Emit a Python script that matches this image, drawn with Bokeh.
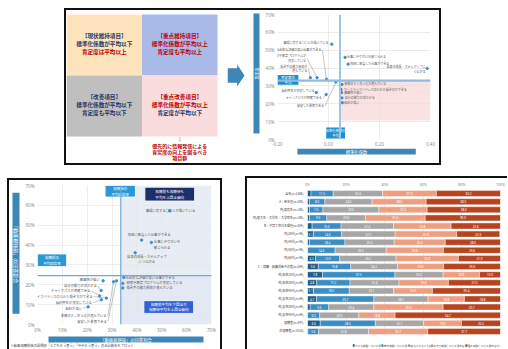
from bokeh.plotting import figure
from bokeh.models import (ColumnDataSource, Range1d, FactorRange, BoxAnnotation, Span,
                          Spacer, FixedTicker, PrintfTickFormatter)
from bokeh.layouts import row, column
from bokeh.core.properties import value
from bokeh.embed import file_html
from bokeh.resources import INLINE
import math

JP = "Noto Sans CJK JP"
LAT = "Noto Sans"

# ---------------- data: quadrant concept diagram ----------------
QUAD_TITLE = ["【現状維持項目】", "【重点維持項目】", "【改善項目】", "【重点改善項目】"]
QUAD_COEF = ["標準化係数が平均以下", "標準化係数が平均以上", "標準化係数が平均以下", "標準化係数が平均以上"]
QUAD_POS = ["肯定度は平均以上", "肯定度も平均以上", "肯定度も平均以下", "肯定度が平均以下"]
QUAD_COL = [0, 1, 0, 1]
QUAD_ROW = [1, 1, 0, 0]
QUAD_NOTE = ["優先的に情報発信による", "肯定度の向上を図るべき", "項目群"]

# ---------------- data: items (both scatter charts) ----------------
ITEMS = ["職場に有する〇〇人が働いている", "地域に密着した仕事ができる", "仕事にやりがいを感じられる",
         "自身の成長・スキルアップにつながる", "社会的な評価が高い仕事ができる",
         "研修や教育プログラムが充実している", "働き手の能力開発が進んでいる",
         "業務のデジタル化が進んでいる", "安定した業界である", "離職率が低い", "自分の能力が活かせる",
         "キャリアパスが明確である", "ワークライフバランスのとれた働き方ができる",
         "福利厚生が充実している", "給料が高い"]
# top scatter: standardized coefficient (x) vs positive rate % (y)
TOP_COEF = [0.013, 0.077, 0.065, 0.387, -0.008, -0.045, -0.071, 0.053, 0.029, 0.051, 0.052,
            -0.009, 0.049, -0.048, 0.054]
TOP_POS = [53.4, 42.2, 46.0, 39.8, 33.7, 34.6, 34.6, 30.8, 32.2, 26.3, 23.3, 25.2, 28.0, 26.3, 20.6]
TOP_COEF_MEAN = 0.045
TOP_POS_MEAN = 33.0
TOP_PINK_BOTTOM = 10.7
# bottom-left scatter: after-viewing rate % (x) vs before-viewing rate % (y)
BL_AFTER = [53.2, 41.9, 45.8, 39.3, 34.7, 34.3, 34.3, 30.6, 31.8, 26.4, 25.6, 25.0, 27.7, 25.7, 20.4]
BL_BEFORE = [57.3, 42.5, 41.3, 36.1, 23.7, 20.7, 18.4, 21.5, 22.0, 22.0, 17.1, 14.4, 13.3, 12.5, 8.9]
BL_AFTER_MEAN = 33.5
BL_BEFORE_MEAN = 24.6

# ---------------- data: stacked bars ----------------
BAR_CATS = ["全体(n=1360)", "A：若年層(n=200)", "内)高校生(n=100)", "内)短大生・大学生・大学院生(n=100)",
            "B：子育て世代主婦層(n=384)", "内)30代(n=96)", "内)40代(n=96)", "内)50代(n=96)",
            "内)60代(n=96)", "C：就職・転職活動中の者(n=384)", "内)男性20代(n=64)", "内)男性30代(n=64)",
            "内)男性40代(n=64)", "内)女性20代(n=64)", "内)女性30代(n=64)", "内)女性40代(n=64)",
            "視聴者(n=347)", "非視聴者(n=1013)"]
BAR_SERIES = ["とても就職したいと思った", "やや就職したいと思った", "どちらともいえない",
              "あまり就職したいと思わなかった", "全く就職したいと思わなかった"]
S_VERY = [1.8, 1.0, 1.0, 1.0, 2.4, 3.1, 1.0, 0.0, 4.2, 5.6, 7.8, 4.8, 3.1, 4.7, 1.4, 0.0, 6.6, 0.2]
S_SOME = [11.5, 8.0, 7.0, 9.0, 15.0, 14.6, 18.4, 14.3, 12.5, 16.8, 37.5, 17.2, 18.5, 29.7, 9.6, 6.3, 28.5, 5.6]
S_NEUT = [25.6, 24.5, 29.0, 20.0, 27.2, 27.7, 25.5, 26.5, 29.2, 24.2, 25.0, 25.4, 23.1, 28.1, 23.4, 20.3, 25.1, 25.8]
S_NOTM = [27.9, 28.0, 25.0, 31.0, 29.8, 31.9, 26.5, 29.6, 32.3, 23.9, 18.8, 25.6, 20.0, 18.8, 35.9, 18.8, 19.6, 30.7]
S_NOT = [33.2, 38.5, 38.0, 39.0, 25.6, 22.3, 28.6, 29.6, 21.9, 29.6, 10.9, 27.0, 35.4, 18.8, 29.7, 54.7, 20.2, 37.7]

# ---------------- layout / style constants ----------------
NAVY = "#1F3864"
RED = "#C00000"
INK = "#111111"
QUAD_FILL = ["#FDE4BC", "#A9BAE9", "#BFBFBF", "#FADCDC"]
QUAD_TXT_COLORS = [[NAVY, NAVY, RED], [RED, RED, RED], [NAVY, NAVY, NAVY], [RED, RED, NAVY]]
QUAD_LINE_OFF = [0.15, 0.02, -0.11]
NOTE_Y = [-0.155, -0.252, -0.349]
ARROW_X = [2.136, 2.261, 2.261, 2.358, 2.261, 2.261, 2.136]
ARROW_Y = [1.12, 1.12, 1.18, 1.0, 0.82, 0.88, 0.88]

TOP_LBL = ["職場に有する〇〇人が働いている", "地域に密着した仕事ができる", "仕事にやりがいを感じられる",
           "自身の成長・スキルアップに\nつながる", "社会的な評価が高い仕事ができる",
           "研修や教育プログラムが\n充実している", "働き手の能力開発が\n進んでいる",
           "業務のデジタル化が進んでいる", "安定した業界である", "離職率が低い", "自分の能力が活かせる",
           "キャリアパスが明確である", "ワークライフバランスのとれた働き方ができる",
           "福利厚生が充実している", "給料が高い"]
TOP_LX = [0.0, 0.085, 0.073, 0.380, -0.028, -0.088, -0.083, 0.062, -0.018, 0.062, 0.064,
          -0.026, 0.060, -0.055, 0.062]
TOP_LY = [54.0, 42.2, 46.0, 39.3, 50.2, 45.3, 39.6, 30.9, 18.8, 26.2, 23.2, 23.0, 28.0, 27.4, 20.6]
TOP_ALIGN = ["right", "left", "left", "right", "right", "right", "right", "left", "right", "left",
             "left", "right", "left", "right", "left"]
TOP_LEADER = [0, 0, 0, 0, 1, 1, 1, 0, 1, 0, 1, 1, 0, 0, 0]

BL_LBL = ["職場に有する〇〇人が働いている", "地域に密着した仕事ができる", "仕事にやりがいを\n感じられる",
          "自身の成長・スキルアップ\nにつながる", "社会的な評価が高い仕事ができる",
          "研修や教育プログラムが充実している", "働き手の能力開発が進んでいる",
          "業務のデジタル化が進んでいる", "安定した業界である", "離職率が低い", "自分の能力が活かせる",
          "キャリアパスが明確である", "ワークライフバランスのとれた働き方ができる",
          "福利厚生が充実している", "給料が高い"]
BL_LX = [43.6, 36.3, 46.8, 44.0, 35.4, 35.8, 35.8, 27.9, 27.9, 25.0, 23.9, 21.3, 22.2, 21.9, 17.9]
BL_LY = [57.3, 45.4, 40.2, 33.1, 23.7, 21.0, 18.4, 4.4, 1.6, 22.6, 19.4, 16.9, 14.1, 11.0, 8.2]
BL_ALIGN = ["left", "left", "left", "center", "left", "left", "left", "right", "right", "right",
            "right", "right", "right", "right", "right"]
BL_LEADER = [0, 0, 0, 0, 0, 0, 0, 1, 1, 0, 1, 1, 1, 1, 1]

BAR_COLORS = ["#215E8C", "#3A8DC5", "#A6A6A6", "#EE9F80", "#B8441F"]
LABEL_MIN = 3.0
DOT = "#3E8FCC"
BOXBLUE = "#3D87B8"
LEG_FONT = 2.6      # px
LEG_START = 61      # px from the left of the legend strip
LEG_SWATCH = 2.6
LEG_GAP = 4.0


def make_fig(w, h, **kw):
    p = figure(width=w, height=h, output_backend="svg", toolbar_location=None, title=None, **kw)
    p.outline_line_color = None
    p.background_fill_color = "white"
    p.border_fill_color = "white"
    return p


def deco(w, h, bg="white"):
    """A figure whose plot area is its whole canvas, in pixel-like units (y downwards)."""
    f = figure(width=w, height=h, x_range=Range1d(0, w), y_range=Range1d(h, 0), min_border=0,
               x_axis_location=None, y_axis_location=None, output_backend="svg",
               toolbar_location=None, title=None)
    f.grid.visible = False
    f.outline_line_color = None
    f.background_fill_color = bg
    f.border_fill_color = bg
    return f


def solid(w, h):
    return Spacer(width=w, height=h, styles={"background-color": INK})


def label_box(f, l, r, t, b, text, size, vertical=False):
    f.quad(left=[l], right=[r], top=[t], bottom=[b], fill_color=BOXBLUE, line_color=None)
    f.text(x=[(l + r) / 2], y=[(t + b) / 2], text=[text], angle=-math.pi / 2 if vertical else 0,
           text_align="center", text_baseline="middle", text_color="white",
           text_font=value(JP), text_font_size=size)


def data_box(p, l, r, b, t, fill, text, size, line=None):
    p.quad(left=[l], right=[r], bottom=[b], top=[t], fill_color=fill,
           line_color=line, line_width=0.8)
    p.text(x=[(l + r) / 2], y=[(b + t) / 2], text=[text], text_align="center",
           text_baseline="middle", text_color="white", text_font=value(JP),
           text_font_size=size, text_line_height=1.15)


def style_axes(p, size, color="#8C8C8C", font=LAT):
    for ax in p.axis:
        ax.axis_line_color = None
        ax.major_tick_line_color = None
        ax.minor_tick_line_color = None
        ax.major_tick_in = 0
        ax.major_tick_out = 0
        ax.major_label_text_font = font
        ax.major_label_text_font_size = size
        ax.major_label_text_color = color


def leader_source(px, py, lx, ly, align, flag, pad):
    x0, y0, x1, y1 = [], [], [], []
    for a, b, c, d, al, f in zip(px, py, lx, ly, align, flag):
        if f:
            s = 1 if al == "right" else -1
            x0.append(c + s * pad)
            y0.append(d)
            x1.append(a)
            y1.append(b)
    return ColumnDataSource(dict(x0=x0, y0=y0, x1=x1, y1=y1))


# ================= top-left: quadrant diagram + arrow =================
qf = make_fig(184, 153, x_range=Range1d(0, 2.437), y_range=Range1d(-0.4426, 2.0656),
              x_axis_location=None, y_axis_location=None, min_border=0)
qf.grid.visible = False
qf.quad(left=QUAD_COL, right=[c + 1 for c in QUAD_COL], bottom=QUAD_ROW,
        top=[r + 1 for r in QUAD_ROW], fill_color=QUAD_FILL, line_color=None)
qx, qy, qt, qc = [], [], [], []
for i in range(4):
    for k, t in enumerate([QUAD_TITLE[i], QUAD_COEF[i], QUAD_POS[i]]):
        qx.append(QUAD_COL[i] + 0.5)
        qy.append(QUAD_ROW[i] + 0.5 + QUAD_LINE_OFF[k])
        qt.append(t)
        qc.append(QUAD_TXT_COLORS[i][k])
qf.text(x="x", y="y", text="t", text_color="c",
        source=ColumnDataSource(dict(x=qx, y=qy, t=qt, c=qc)),
        text_align="center", text_baseline="middle", text_font=value(JP),
        text_font_size="5.6px", text_font_style="bold")
qf.text(x=[1.5], y=[-0.049], text=["⇩"], text_align="center", text_baseline="middle",
        text_font=value("DejaVu Sans"), text_font_size="5px", text_color="#8C8C8C")
qf.text(x=[1.5] * 3, y=NOTE_Y, text=QUAD_NOTE, text_align="center",
        text_baseline="middle", text_font=value(JP), text_font_size="5px",
        text_font_style="bold", text_color=RED)
qf.patch(ARROW_X, ARROW_Y, fill_color=BOXBLUE, line_color=None)

# ================= top-right: scatter (coef vs positive rate) =================
ts = make_fig(177, 138, x_range=Range1d(-0.2, 0.4), y_range=Range1d(0, 70),
              min_border_left=14, min_border_right=9, min_border_top=4, min_border_bottom=8)
ts.xaxis.ticker = FixedTicker(ticks=[-0.2, 0.0, 0.2, 0.4])
ts.yaxis.ticker = FixedTicker(ticks=list(range(0, 71, 10)))
ts.xaxis.formatter = PrintfTickFormatter(format="%.2f")
ts.yaxis.formatter = PrintfTickFormatter(format="%d%%")
style_axes(ts, "4.5px")
ts.yaxis.major_label_standoff = 3
ts.xaxis.major_label_standoff = 2
ts.grid.grid_line_color = "#E3E3E3"
ts.grid.grid_line_width = 0.7
ts.add_layout(BoxAnnotation(left=TOP_COEF_MEAN, right=0.4, bottom=TOP_PINK_BOTTOM, top=TOP_POS_MEAN,
                            fill_color="#FBE2E2", fill_alpha=1, line_color=None, level="image"))
ts.add_layout(Span(location=TOP_COEF_MEAN, dimension="height", line_color="#9EC5E6", line_width=2))
ts.add_layout(Span(location=TOP_POS_MEAN, dimension="width", line_color="#8DBBE2", line_width=2.2))
ts.segment(x0="x0", y0="y0", x1="x1", y1="y1",
           source=leader_source(TOP_COEF, TOP_POS, TOP_LX, TOP_LY, TOP_ALIGN, TOP_LEADER, 0.004),
           line_color="#8C8C8C", line_width=0.5)
ts.scatter(TOP_COEF, TOP_POS, size=2.4, color=DOT)
ts.text(x="x", y="y", text="t", text_align="a",
        source=ColumnDataSource(dict(x=TOP_LX, y=TOP_LY, t=TOP_LBL, a=TOP_ALIGN)),
        text_baseline="middle", text_font=value(JP), text_font_size="3px",
        text_color="#595959", text_line_height=1.1)
data_box(ts, -0.2, -0.118, 30.6, 36.1, "#1C8FD0", "肯定度の\n平均", "3.5px")
data_box(ts, -0.009, 0.065, 0.6, 6.7, "#1C8FD0", "標準化係数の\n平均", "3.3px")

ts_ylab = deco(12, 153)
label_box(ts_ylab, 3, 9, 3, 123, "肯定度", "4px", vertical=True)
ts_xlab = deco(177, 15)
label_box(ts_xlab, 23, 160, 0, 6, "標準化係数", "4.3px")

# ================= bottom-left: before/after scatter =================
bl = make_fig(198, 155, x_range=Range1d(0, 70), y_range=Range1d(0, 70),
              min_border_left=14, min_border_right=9, min_border_top=5, min_border_bottom=8)
for ax in (bl.xaxis, bl.yaxis):
    ax.ticker = FixedTicker(ticks=list(range(0, 71, 10)))
    ax.formatter = PrintfTickFormatter(format="%d%%")
style_axes(bl, "4.6px")
bl.yaxis.major_label_standoff = 3
bl.xaxis.major_label_standoff = 2
bl.grid.grid_line_color = "#E6E6E6"
bl.grid.grid_line_width = 0.7
bl.add_layout(BoxAnnotation(left=BL_AFTER_MEAN, right=70, bottom=BL_BEFORE_MEAN, top=70,
                            fill_color="#E7EDF2", fill_alpha=1, line_color=None, level="image"))
bl.add_layout(BoxAnnotation(left=BL_AFTER_MEAN, right=70, bottom=0, top=BL_BEFORE_MEAN,
                            fill_color="#E4E8F4", fill_alpha=1, line_color=None, level="image"))
bl.add_layout(Span(location=BL_AFTER_MEAN, dimension="height", line_color="#6FA9DA", line_width=1.2))
bl.add_layout(Span(location=BL_BEFORE_MEAN, dimension="width", line_color="#6FA9DA", line_width=1.4))
bl.segment(x0="x0", y0="y0", x1="x1", y1="y1",
           source=leader_source(BL_AFTER, BL_BEFORE, BL_LX, BL_LY, BL_ALIGN, BL_LEADER, 0.4),
           line_color="#8C8C8C", line_width=0.5)
bl.scatter(BL_AFTER, BL_BEFORE, size=2.4, color=DOT)
bl.text(x="x", y="y", text="t", text_align="a",
        source=ColumnDataSource(dict(x=BL_LX, y=BL_LY, t=BL_LBL, a=BL_ALIGN)),
        text_baseline="middle", text_font=value(JP), text_font_size="3.3px",
        text_color="#595959", text_line_height=1.1)
data_box(bl, 27.2, 39.4, 64.2, 70, "#2A98D5", "視聴後の\n平均回答率", "3.5px", line="white")
data_box(bl, 0, 11.7, 29.2, 35.5, "#2A98D5", "視聴前の\n平均回答率", "3.5px", line="white")
data_box(bl, 43.2, 63.2, 62.2, 69.1, "#1B2F6B", "視聴前も視聴後も\n平均を上回る傾向", "3.6px", line="white")
data_box(bl, 42.8, 62.8, 5.6, 12.0, "#3162D2", "視聴前平均を下回るが\n視聴後平均を上回る傾向", "3.6px",
         line="white")

bl_ylab = deco(13, 155)
label_box(bl_ylab, 3, 10, 8, 143, "「動画視聴前」の回答割合", "5px", vertical=True)
bl_bottom = deco(211, 14)
label_box(bl_bottom, 39, 194, 1, 7, "「動画視聴後」の回答割合", "4.3px")
bl_bottom.text(x=[1], y=[9.6], text=["※動画視聴前後の設問別「とてもそう思う」「ややそう思う」の合計割合をプロット"],
               text_align="left", text_baseline="middle", text_font=value(JP),
               text_font_size="3.3px", text_color="#404040")

# ================= bottom-right: stacked bars =================
br = make_fig(260, 161, x_range=Range1d(0, 100), y_range=FactorRange(*reversed(BAR_CATS)),
              x_axis_location="above",
              min_border_left=60, min_border_right=7, min_border_top=10, min_border_bottom=4)
keys = ["s1", "s2", "s3", "s4", "s5"]
series = [S_VERY, S_SOME, S_NEUT, S_NOTM, S_NOT]
bsrc = ColumnDataSource(dict(cat=BAR_CATS, **{k: s for k, s in zip(keys, series)}))
br.hbar_stack(keys, y="cat", height=0.74, color=BAR_COLORS, source=bsrc,
              line_color="white", line_width=0.4)
lx, ly, lt = [], [], []
for i, c in enumerate(BAR_CATS):
    left = 0.0
    for s in series:
        v = s[i]
        if v >= LABEL_MIN:
            lx.append(left + v / 2)
            ly.append(c)
            lt.append("%.1f" % v)
        left += v
br.text(x="x", y="y", text="t", source=ColumnDataSource(dict(x=lx, y=ly, t=lt)),
        text_align="center", text_baseline="middle", text_color="white",
        text_font=value(LAT), text_font_size="3px")
br.xaxis.ticker = FixedTicker(ticks=[0, 20, 40, 60, 80, 100])
br.xaxis.formatter = PrintfTickFormatter(format="%d%%")
style_axes(br, "3.6px", color="#7F7F7F")
br.yaxis.major_label_text_font = JP
br.yaxis.major_label_text_font_size = "3px"
br.yaxis.major_label_text_color = "#404040"
br.yaxis.major_label_standoff = 4
br.xaxis.major_label_standoff = 3
br.ygrid.grid_line_color = None
br.xgrid.grid_line_color = "#D9D9D9"
br.xgrid.grid_line_width = 0.6
br.y_range.range_padding = 0

# legend strip below the bars: colour swatch + label for each series
br_leg = deco(260, 10)
sw_l, sw_r, tx_x = [], [], []
cursor = LEG_START
for name in BAR_SERIES:
    sw_l.append(cursor)
    sw_r.append(cursor + LEG_SWATCH)
    tx_x.append(cursor + LEG_SWATCH + 0.8)
    cursor += LEG_SWATCH + 0.8 + len(name) * LEG_FONT + LEG_GAP
br_leg.quad(left=sw_l, right=sw_r, top=[4 - LEG_SWATCH / 2] * 5, bottom=[4 + LEG_SWATCH / 2] * 5,
            fill_color=BAR_COLORS, line_color=None)
br_leg.text(x=tx_x, y=[4] * 5, text=BAR_SERIES, text_align="left", text_baseline="middle",
            text_font=value(JP), text_font_size="%.1fpx" % LEG_FONT, text_color="#404040")

# ================= page layout =================
ts_block = row(ts_ylab, column(ts, ts_xlab))
top_panel = column(solid(377, 2),
                   row(solid(2, 153), qf, ts_block, solid(2, 153)),
                   solid(377, 2))
bl_panel = column(solid(215, 2),
                  row(solid(2, 169),
                      column(row(bl_ylab, bl), bl_bottom),
                      solid(2, 169)))
br_panel = column(solid(262, 2),
                  row(solid(2, 171), column(br, br_leg)))

top_row = row(Spacer(width=64, height=157), top_panel)
bottom_row = row(Spacer(width=7, height=184),
                 column(Spacer(width=215, height=13), bl_panel),
                 Spacer(width=23, height=184),
                 column(Spacer(width=262, height=11), br_panel))
root = column(Spacer(width=508, height=8), top_row, bottom_row)

open("out.html", "w").write(file_html(root, INLINE))
